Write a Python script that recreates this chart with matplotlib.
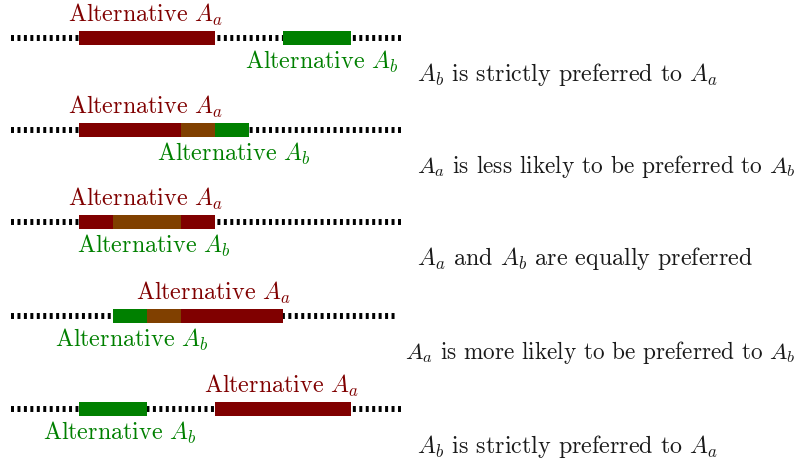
import matplotlib.pyplot as plt

plt.rcParams['font.family'] = 'serif'
plt.rcParams['font.serif'] = ['cmr10']
plt.rcParams['mathtext.fontset'] = 'cm'
plt.rcParams['axes.unicode_minus'] = False

# interval of each alternative on the scale, one entry per row
a_start = [2, 2, 2, 4, 6]
a_end = [6, 6, 6, 8, 10]
b_start = [8, 5, 3, 3, 2]
b_end = [10, 7, 5, 5, 4]
line_end = [11.5, 11.5, 11.5, 11.3, 11.5]

captions = [
    r'$A_b$ is strictly preferred to $A_a$',
    r'$A_a$ is less likely to be preferred to $A_b$',
    r'$A_a$ and $A_b$ are equally preferred',
    r'$A_a$ is more likely to be preferred to $A_b$',
    r'$A_b$ is strictly preferred to $A_a$',
]

# where the labels sit (scale units)
a_label_x = [3.95, 3.95, 3.95, 5.95, 7.95]
b_label_x = [9.15, 6.55, 4.2, 3.55, 3.2]
caption_x = [11.95, 11.95, 11.95, 11.6, 11.95]

red = '#800000'
green = '#008000'
brown = '#804000'

fig = plt.figure(figsize=(7.99, 4.63), dpi=100)
ax = fig.add_axes([0, 0, 1, 1])
# 1 scale unit = 34 px, zero at x = 11 px; y in pixels from the top
ax.set_xlim(-11 / 34, 788 / 34)
ax.set_ylim(463, 0)
ax.axis('off')

row_y = [38, 130, 222, 316, 409]
bar_h = 13.5
fs = 17.3

fig.canvas.draw()
renderer = fig.canvas.get_renderer()

for i, y in enumerate(row_y):
    ax.plot([0, line_end[i]], [y, y], color='black', lw=4.3,
            linestyle=(0, (0.5, 0.58)), dash_capstyle='butt', zorder=1)
    ax.barh(y, a_end[i] - a_start[i], left=a_start[i], height=bar_h,
            color=red, zorder=2)
    ax.barh(y, b_end[i] - b_start[i], left=b_start[i], height=bar_h,
            color=green, zorder=2)
    lo = max(a_start[i], b_start[i])
    hi = min(a_end[i], b_end[i])
    if hi > lo:
        ax.barh(y, hi - lo, left=lo, height=bar_h, color=brown, zorder=3)

    ax.text(a_label_x[i], y - 23, r'Alternative $A_a$', color=red,
            fontsize=fs, ha='center', va='center')
    ax.text(b_label_x[i], y + 24, r'Alternative $A_b$', color=green,
            fontsize=fs, ha='center', va='center')
    t = ax.text(caption_x[i], y + 37, captions[i], color='#1a1a1a',
                fontsize=fs, ha='left', va='center')
    # shrink a caption that would run past the right edge
    bb = t.get_window_extent(renderer)
    if bb.x1 > 796:
        t.set_fontsize(fs * (796 - bb.x0) / bb.width)

fig.savefig('out.png', dpi=100)
